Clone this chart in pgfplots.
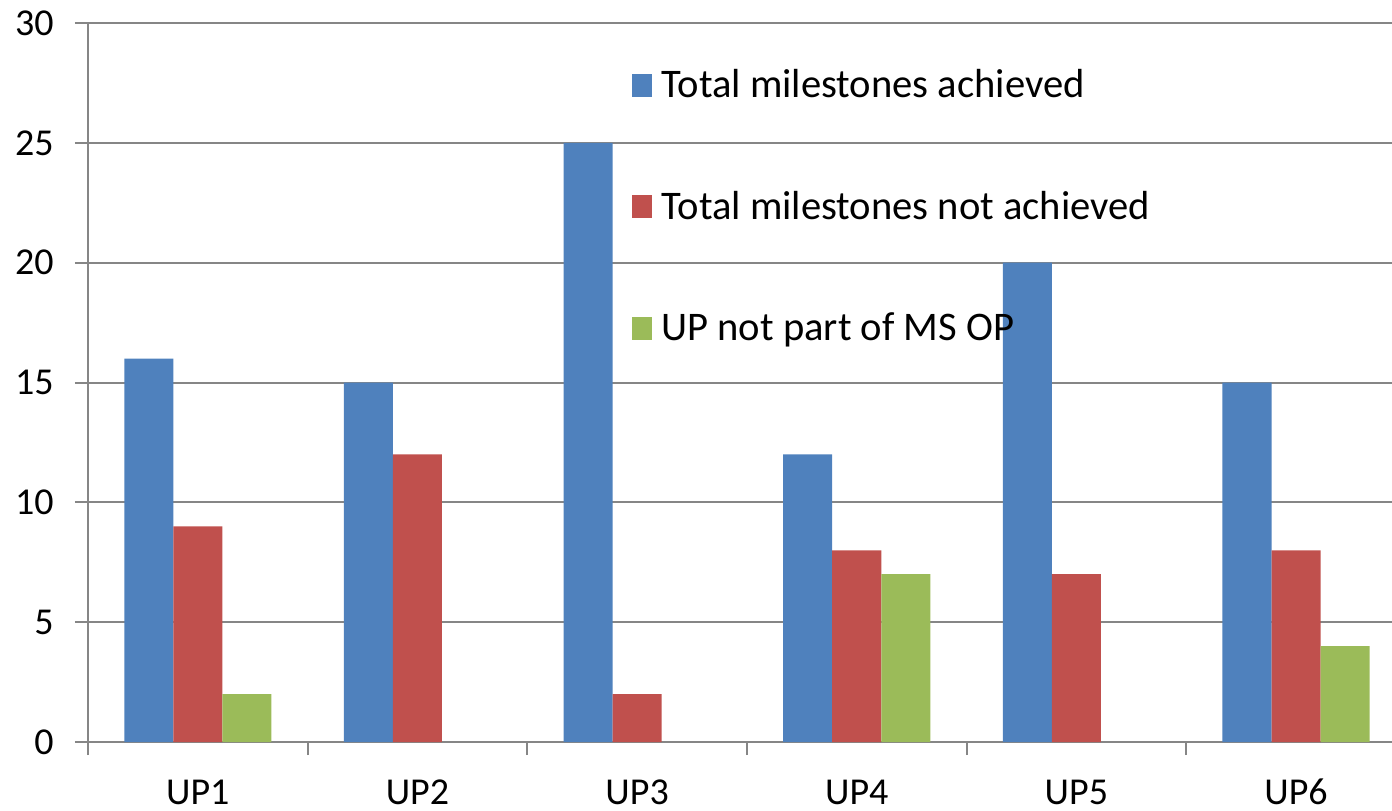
\documentclass[border=0pt]{standalone}
\usepackage{pgfplots}
\pgfplotsset{compat=1.18}
\usepackage{fontspec}
\setmainfont{Carlito}
\definecolor{cblue}{HTML}{4F81BD}
\definecolor{cred}{HTML}{C0504D}
\definecolor{cgreen}{HTML}{9BBB59}
\definecolor{gridgray}{RGB}{134,134,134}
\begin{document}
\begin{tikzpicture}
\path[use as bounding box] (-44pt,-34pt) rectangle (652pt,371pt);
\begin{axis}[
  at={(0pt,0pt)}, anchor=south west,
  scale only axis, width=652pt, height=359.5pt,
  xmin=-0.5, xmax=5.437, ymin=0, ymax=30,
  ytick={0,5,...,30},
  xtick={-0.5,0.5,1.5,2.5,3.5,4.5},
  xticklabels={},
  extra x ticks={0,1,2,3,4,5},
  extra x tick labels={UP1,UP2,UP3,UP4,UP5,UP6},
  extra x tick style={major tick length=0pt, grid=none},
  axis x line=bottom, axis y line=left,
  axis line style={-, draw=gridgray, line width=1pt},
  tick style={draw=gridgray, line width=1pt},
  tick align=outside, major tick length=6.5pt,
  ymajorgrids, grid style={draw=gridgray, line width=1pt},
  font=\fontsize{19}{22.8}\selectfont,
  /pgf/number format/assume math mode=true,
  ticklabel style={font=\fontsize{19}{22.8}\selectfont},
  yticklabel style={anchor=east, inner sep=0pt, xshift=-10.5pt},
  xticklabel style={anchor=base, inner sep=0pt, yshift=-31pt},
  ybar=0pt, bar width=0.2232,
  legend style={draw=none, fill=none, inner sep=0pt,
    at={(0.4172,0.9415)}, anchor=north west,
    font=\fontsize{20.3}{24.4}\selectfont,
    row sep=41.3pt,
    /tikz/every odd column/.append style={column sep=2.5pt}},
  legend cell align=left,
  legend image code/.code={\fill[#1] (0pt,-5.75pt) rectangle (10pt,5.75pt);},
]
\addplot[fill=cblue, draw=none] coordinates {(0,16) (1,15) (2,25) (3,12) (4,20) (5,15)};
\addplot[fill=cred, draw=none] coordinates {(0,9) (1,12) (2,2) (3,8) (4,7) (5,8)};
\addplot[fill=cgreen, draw=none] coordinates {(0,2) (3,7) (5,4)};
\legend{Total milestones achieved, Total milestones not achieved, UP not part of MS OP}
\end{axis}
\end{tikzpicture}
\end{document}
